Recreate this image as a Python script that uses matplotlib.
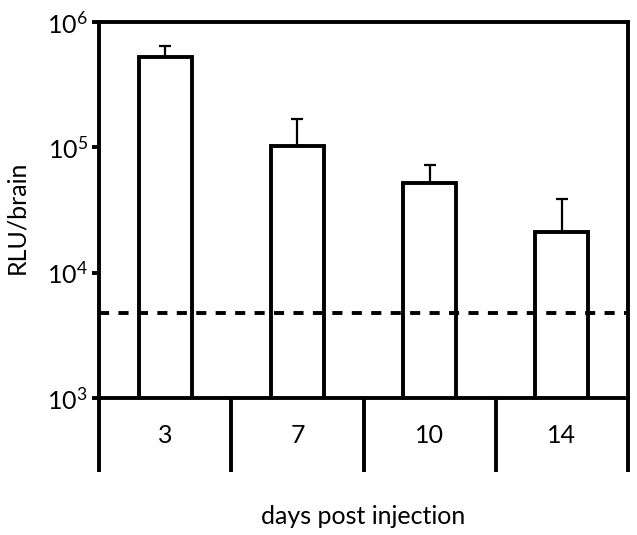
import numpy as np
import matplotlib
matplotlib.use('Agg')
import matplotlib.pyplot as plt
from matplotlib.ticker import FixedLocator, NullFormatter

# data
days = ['3', '7', '10', '14']
rlu_mean = [5.26e5, 1.02e5, 5.19e4, 2.11e4]
rlu_upper = [6.4e5, 1.68e5, 7.22e4, 3.87e4]
detection_limit = 4.76e3

plt.rcParams['font.family'] = ['Lato', 'DejaVu Sans']
plt.rcParams['mathtext.fontset'] = 'custom'
plt.rcParams['mathtext.rm'] = 'Lato'
plt.rcParams['mathtext.it'] = 'Lato:italic'
plt.rcParams['mathtext.default'] = 'rm'

fig = plt.figure(figsize=(6.37, 5.35), dpi=100)
ax = fig.add_axes([99 / 637, 1 - 398 / 535, (628 - 99) / 637, (398 - 22) / 535])

x = np.arange(len(days))
err_up = np.array(rlu_upper) - np.array(rlu_mean)
ax.errorbar(x, rlu_mean, yerr=[np.zeros(len(x)), err_up], fmt='none',
            ecolor='black', elinewidth=1.6, capsize=4, capthick=1.6, zorder=1)
ax.bar(x, rlu_mean, width=0.4, color='white', edgecolor='black', linewidth=2.8, zorder=2)
ax.axhline(detection_limit, color='black', linewidth=2.8, dashes=(2.6, 2.4), zorder=3)

ax.set_yscale('log')
ax.set_ylim(1e3, 1e6)
ax.set_xlim(-0.5, 3.5)
ax.yaxis.set_major_locator(FixedLocator([1e3, 1e4, 1e5, 1e6]))
ax.yaxis.set_minor_locator(FixedLocator([]))
ax.set_yticklabels([r'$10^3$', r'$10^4$', r'$10^5$', r'$10^6$'])
ax.tick_params(axis='y', which='major', length=5, width=2.8, labelsize=18, pad=3)

# category box below the axis: long ticks at the boundaries, labels in the middle
ax.xaxis.set_major_locator(FixedLocator(np.arange(-0.5, len(days), 1.0)))
ax.xaxis.set_major_formatter(NullFormatter())
ax.xaxis.set_minor_locator(FixedLocator(x))
ax.set_xticklabels(days, minor=True)
ax.tick_params(axis='x', which='major', length=53, width=2.8, direction='out')
ax.tick_params(axis='x', which='minor', length=0, labelsize=18, pad=19)

for s in ax.spines.values():
    s.set_linewidth(2.8)

ax.set_ylabel('RLU/brain', fontsize=18, va='center')
ax.yaxis.set_label_coords(-0.155, 0.48)
fig.text((99 + 628) / 2 / 637, 1 - 517 / 535, 'days post injection',
         fontsize=18, ha='center', va='center')

fig.savefig('out.png', dpi=100)
